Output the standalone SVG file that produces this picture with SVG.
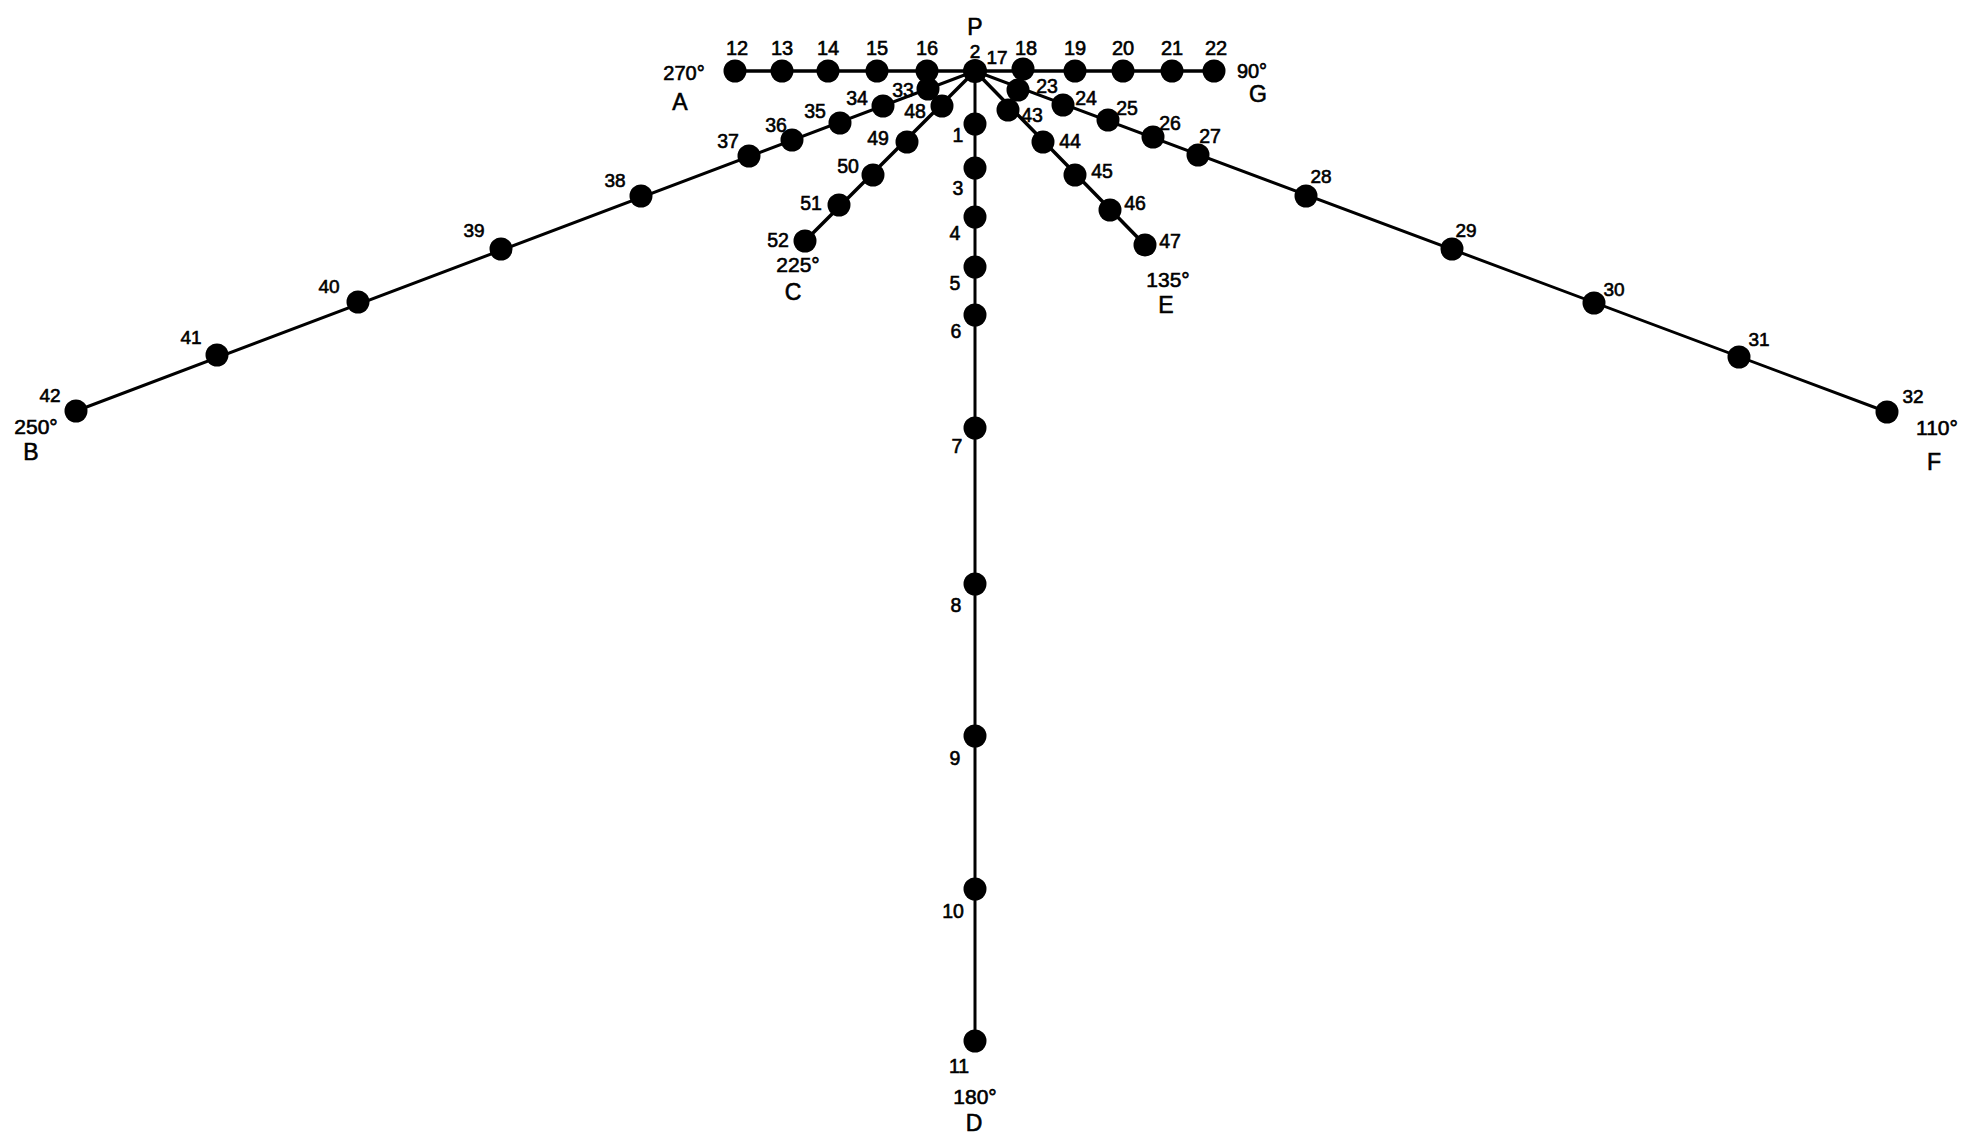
<svg xmlns="http://www.w3.org/2000/svg" width="1963" height="1133" viewBox="0 0 1963 1133">
<style>
text{font-family:"Liberation Sans","DejaVu Sans",sans-serif;fill:#000;stroke:#000;stroke-width:0.6;text-anchor:middle}
.t{font-size:20px}
.m{font-size:19.5px}
.s{font-size:19px}
.k{font-size:23px}
.d{font-size:21px}
circle{fill:#000}
.c line{stroke:#000;stroke-width:3.5;stroke-linecap:round}
.c line.thin{stroke-width:3}
</style>
<rect width="1963" height="1133" fill="#fff"/>
<g id="connectors" class="c">
<line x1="975" y1="71" x2="735" y2="71"/>
<line x1="975" y1="71" x2="1214" y2="71"/>
<line x1="975" y1="71" x2="975" y2="1041" class="thin"/>
<line x1="975" y1="71" x2="76" y2="411" class="thin"/>
<line x1="975" y1="71" x2="805" y2="241"/>
<line x1="975" y1="71" x2="1145" y2="245"/>
<line x1="975" y1="71" x2="1887" y2="412" class="thin"/>
</g>
<g id="labels">
<text class="k" x="975" y="35">P</text>
<text class="t" x="684" y="80">270°</text>
<text class="k" x="680" y="110">A</text>
<text class="t" x="1252" y="78">90°</text>
<text class="k" x="1258" y="102">G</text>
<text class="d" x="36" y="434">250°</text>
<text class="k" x="31" y="460">B</text>
<text class="d" x="798" y="272">225°</text>
<text class="k" x="793" y="300">C</text>
<text class="d" x="975" y="1104">180°</text>
<text class="k" x="974" y="1131">D</text>
<text class="d" x="1168" y="287">135°</text>
<text class="k" x="1166" y="313">E</text>
<text class="d" x="1937" y="435">110°</text>
<text class="k" x="1934" y="470">F</text>
</g>
<g id="n2"><circle cx="975" cy="71" r="12"/><text class="s" x="975" y="58">2</text></g>
<g id="n17"><text class="s" x="997" y="64">17</text></g>
<g id="n16"><circle cx="927" cy="71" r="11.5"/><text class="t" x="927" y="55">16</text></g>
<g id="n15"><circle cx="877" cy="71" r="11.5"/><text class="t" x="877" y="55">15</text></g>
<g id="n14"><circle cx="828" cy="71" r="11.5"/><text class="t" x="828" y="55">14</text></g>
<g id="n13"><circle cx="782" cy="71" r="11.5"/><text class="t" x="782" y="55">13</text></g>
<g id="n12"><circle cx="735" cy="71" r="11.5"/><text class="t" x="737" y="55">12</text></g>
<g id="n18"><circle cx="1023" cy="69" r="11.5"/><text class="t" x="1026" y="55">18</text></g>
<g id="n19"><circle cx="1075" cy="71" r="11.5"/><text class="t" x="1075" y="55">19</text></g>
<g id="n20"><circle cx="1123" cy="71" r="11.5"/><text class="t" x="1123" y="55">20</text></g>
<g id="n21"><circle cx="1172" cy="71" r="11.5"/><text class="t" x="1172" y="55">21</text></g>
<g id="n22"><circle cx="1214" cy="71" r="11.5"/><text class="t" x="1216" y="55">22</text></g>
<g id="n33"><circle cx="928" cy="89" r="11.5"/><text class="m" x="903" y="97">33</text></g>
<g id="n34"><circle cx="883" cy="106" r="11.5"/><text class="m" x="857" y="105">34</text></g>
<g id="n35"><circle cx="840" cy="123" r="11.5"/><text class="m" x="815" y="118">35</text></g>
<g id="n36"><circle cx="792" cy="140" r="11.5"/><text class="m" x="776" y="132">36</text></g>
<g id="n37"><circle cx="749" cy="156" r="11.5"/><text class="m" x="728" y="148">37</text></g>
<g id="n38"><circle cx="641" cy="196" r="11.5"/><text class="s" x="615" y="187">38</text></g>
<g id="n39"><circle cx="501" cy="249" r="11.5"/><text class="s" x="474" y="237">39</text></g>
<g id="n40"><circle cx="358" cy="302" r="11.5"/><text class="s" x="329" y="293">40</text></g>
<g id="n41"><circle cx="217" cy="355" r="11.5"/><text class="s" x="191" y="344">41</text></g>
<g id="n42"><circle cx="76" cy="411" r="11.5"/><text class="s" x="50" y="402">42</text></g>
<g id="n48"><circle cx="942" cy="106" r="11.5"/><text class="m" x="915" y="118">48</text></g>
<g id="n49"><circle cx="907" cy="142" r="11.5"/><text class="m" x="878" y="145">49</text></g>
<g id="n50"><circle cx="873" cy="175" r="11.5"/><text class="m" x="848" y="173">50</text></g>
<g id="n51"><circle cx="839" cy="205" r="11.5"/><text class="m" x="811" y="210">51</text></g>
<g id="n52"><circle cx="805" cy="241" r="11.5"/><text class="m" x="778" y="247">52</text></g>
<g id="n1"><circle cx="975" cy="124" r="11.5"/><text class="m" x="958" y="142">1</text></g>
<g id="n3"><circle cx="975" cy="168" r="11.5"/><text class="m" x="958" y="195">3</text></g>
<g id="n4"><circle cx="975" cy="217" r="11.5"/><text class="m" x="955" y="240">4</text></g>
<g id="n5"><circle cx="975" cy="267" r="11.5"/><text class="m" x="955" y="290">5</text></g>
<g id="n6"><circle cx="975" cy="315" r="11.5"/><text class="m" x="956" y="338">6</text></g>
<g id="n7"><circle cx="975" cy="428" r="11.5"/><text class="m" x="957" y="453">7</text></g>
<g id="n8"><circle cx="975" cy="584" r="11.5"/><text class="m" x="956" y="612">8</text></g>
<g id="n9"><circle cx="975" cy="736" r="11.5"/><text class="m" x="955" y="765">9</text></g>
<g id="n10"><circle cx="975" cy="889" r="11.5"/><text class="m" x="953" y="918">10</text></g>
<g id="n11"><circle cx="975" cy="1041" r="11.5"/><text class="m" x="959" y="1073">11</text></g>
<g id="n43"><circle cx="1008" cy="110" r="11.5"/><text class="m" x="1032" y="122">43</text></g>
<g id="n44"><circle cx="1043" cy="142" r="11.5"/><text class="m" x="1070" y="148">44</text></g>
<g id="n45"><circle cx="1075" cy="175" r="11.5"/><text class="m" x="1102" y="178">45</text></g>
<g id="n46"><circle cx="1110" cy="210" r="11.5"/><text class="m" x="1135" y="210">46</text></g>
<g id="n47"><circle cx="1145" cy="245" r="11.5"/><text class="m" x="1170" y="248">47</text></g>
<g id="n23"><circle cx="1018" cy="90" r="11.5"/><text class="m" x="1047" y="93">23</text></g>
<g id="n24"><circle cx="1063" cy="105" r="11.5"/><text class="m" x="1086" y="105">24</text></g>
<g id="n25"><circle cx="1108" cy="120" r="11.5"/><text class="m" x="1127" y="115">25</text></g>
<g id="n26"><circle cx="1153" cy="137" r="11.5"/><text class="m" x="1170" y="130">26</text></g>
<g id="n27"><circle cx="1198" cy="155" r="11.5"/><text class="m" x="1210" y="143">27</text></g>
<g id="n28"><circle cx="1306" cy="196" r="11.5"/><text class="s" x="1321" y="183">28</text></g>
<g id="n29"><circle cx="1452" cy="249" r="11.5"/><text class="s" x="1466" y="237">29</text></g>
<g id="n30"><circle cx="1594" cy="303" r="11.5"/><text class="s" x="1614" y="296">30</text></g>
<g id="n31"><circle cx="1739" cy="357" r="11.5"/><text class="s" x="1759" y="346">31</text></g>
<g id="n32"><circle cx="1887" cy="412" r="11.5"/><text class="s" x="1913" y="403">32</text></g>
</svg>
